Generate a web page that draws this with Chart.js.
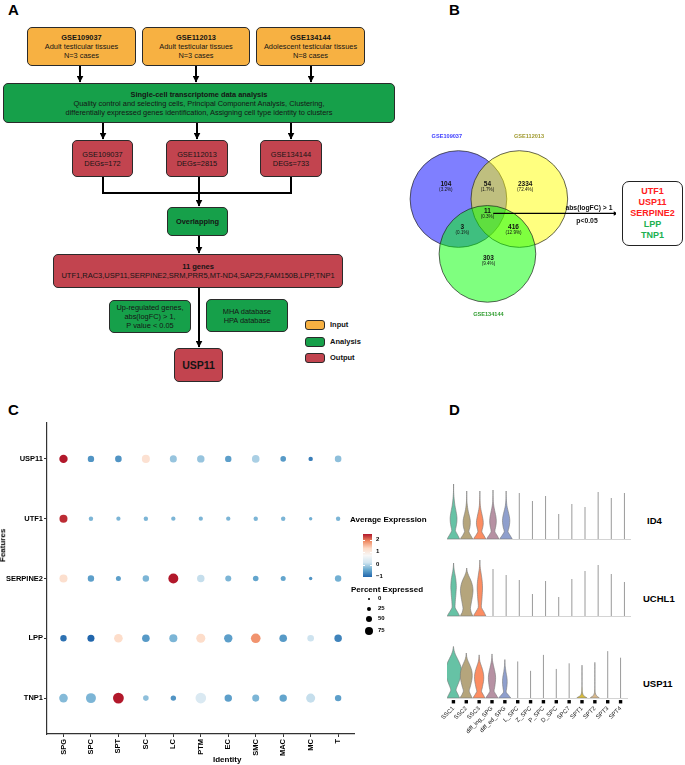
<!DOCTYPE html>
<html>
<head>
<meta charset="utf-8">
<script src="https://cdn.jsdelivr.net/npm/chart.js@4.4.1/dist/chart.umd.min.js"></script>
<style>
  body { margin: 0; background: #fff; font-family: "Liberation Sans", Arial, sans-serif; }
  #page { position: relative; width: 685px; height: 765px; overflow: hidden; background: #fff; }
  .abs { position: absolute; }
  .letter { position: absolute; font-weight: bold; font-size: 15px; color: #000; }
  .box { position: absolute; box-sizing: border-box; border: 1px solid #2a2a2a; border-radius: 5px;
         display: flex; flex-direction: column; align-items: center; justify-content: center;
         text-align: center; font-size: 7.4px; line-height: 9px; color: #151515; white-space: nowrap; }
  .orange { background: #f7b142; }
  .green { background: #16a04a; }
  .red { background: #c2444f; }
  .leg { position: absolute; font-size: 7.5px; font-weight: bold; color: #111; }
  .txt { position: absolute; white-space: nowrap; color: #000; }
  canvas { position: absolute; }
</style>
</head>
<body>
<div id="page">
  <!-- panel A -->
  <div class="letter" style="left:8px;top:1px;">A</div>
  <svg class="abs" style="left:0;top:0;" width="400" height="400">
    <defs>
      <marker id="ah" markerWidth="3.5" markerHeight="3.5" refX="3.2" refY="1.75" orient="auto" markerUnits="strokeWidth">
        <path d="M0,0 L3.5,1.75 L0,3.5 z" fill="#000"/>
      </marker>
    </defs>
    <g stroke="#000" stroke-width="2" fill="none">
      <line x1="80" y1="66" x2="80" y2="82" marker-end="url(#ah)"/>
      <line x1="196" y1="66" x2="196" y2="82" marker-end="url(#ah)"/>
      <line x1="311" y1="66" x2="311" y2="82" marker-end="url(#ah)"/>
      <line x1="103" y1="123" x2="103" y2="139" marker-end="url(#ah)"/>
      <line x1="197" y1="123" x2="197" y2="139" marker-end="url(#ah)"/>
      <line x1="291" y1="123" x2="291" y2="139" marker-end="url(#ah)"/>
      <polyline points="103,177 103,193 291,193 291,177"/>
      <line x1="199" y1="177" x2="199" y2="206" marker-end="url(#ah)"/>
      <line x1="199" y1="236" x2="199" y2="253" marker-end="url(#ah)"/>
      <line x1="199" y1="288" x2="199" y2="347" marker-end="url(#ah)"/>
    </g>
  </svg>
  <div class="box orange" style="left:27px;top:27px;width:109px;height:39px;"><b>GSE109037</b>Adult testicular tissues<br>N=3 cases</div>
  <div class="box orange" style="left:142px;top:27px;width:108px;height:39px;"><b>GSE112013</b>Adult testicular tissues<br>N=3 cases</div>
  <div class="box orange" style="left:256px;top:27px;width:109px;height:39px;"><b>GSE134144</b>Adolescent testicular tissues<br>N=8 cases</div>
  <div class="box green" style="left:3px;top:83px;width:392px;height:40px;"><b>Single-cell transcriptome data analysis</b>Quality control and selecting cells, Principal Component Analysis, Clustering,<br>differentially expressed genes identification, Assigning cell type identity to clusters</div>
  <div class="box red" style="left:72px;top:140px;width:61px;height:37px;">GSE109037<br>DEGs=172</div>
  <div class="box red" style="left:166px;top:140px;width:62px;height:37px;">GSE112013<br>DEGs=2815</div>
  <div class="box red" style="left:260px;top:140px;width:62px;height:37px;">GSE134144<br>DEGs=733</div>
  <div class="box green" style="left:167px;top:207px;width:61px;height:29px;"><b>Overlapping</b></div>
  <div class="box red" style="left:53px;top:254px;width:290px;height:34px;font-size:7.5px;"><b>11 genes</b>UTF1,RAC3,USP11,SERPINE2,SRM,PRR5,MT-ND4,SAP25,FAM150B,LPP,TNP1</div>
  <div class="box green" style="left:109px;top:300px;width:82px;height:33px;">Up-regulated genes,<br>abs(logFC) &gt; 1,<br>P value &lt; 0.05</div>
  <div class="box green" style="left:206px;top:299px;width:82px;height:33px;">MHA database<br>HPA database</div>
  <div class="box red" style="left:174px;top:348px;width:49px;height:34px;font-size:10.5px;"><b>USP11</b></div>
  <div class="box orange" style="left:305px;top:320px;width:20px;height:10px;border-radius:3px;"></div>
  <div class="box green" style="left:305px;top:337px;width:20px;height:10px;border-radius:3px;"></div>
  <div class="box red" style="left:305px;top:353px;width:20px;height:10px;border-radius:3px;"></div>
  <div class="leg" style="left:330px;top:320px;">Input</div>
  <div class="leg" style="left:330px;top:337px;">Analysis</div>
  <div class="leg" style="left:330px;top:353px;">Output</div>

  <!-- panel B -->
  <div class="letter" style="left:449px;top:1px;">B</div>
  <canvas id="venn" width="240" height="210" style="left:380px;top:120px;"></canvas>
  <div class="box" style="left:622px;top:181px;width:61px;height:65px;border:1.2px solid #222;border-radius:7px;font-size:9px;line-height:11px;font-weight:bold;">
    <span style="color:#ff2020">UTF1</span><span style="color:#ff2020">USP11</span><span style="color:#ff2020">SERPINE2</span><span style="color:#20b050">LPP</span><span style="color:#20b050">TNP1</span>
  </div>

  <!-- panel C -->
  <div class="letter" style="left:8px;top:401px;">C</div>
  <canvas id="dotC" width="360" height="350" style="left:0;top:415px;"></canvas>
  <div class="txt" style="left:-14px;top:541px;font-size:8px;font-weight:bold;transform:rotate(-90deg);">Features</div>
  <div class="txt" style="left:213px;top:755px;font-size:8px;font-weight:bold;">Identity</div>
  <div class="txt" style="left:350px;top:515px;font-size:8px;font-weight:bold;">Average Expression</div>
  <div class="abs" id="cbar" style="left:363px;top:534px;width:9px;height:43px;"></div>
  <div id="cbarLabels"></div>
  <div class="txt" style="left:351px;top:585px;font-size:8px;font-weight:bold;">Percent Expressed</div>
  <div id="sizeLegend"></div>

  <!-- panel D -->
  <div class="letter" style="left:449px;top:401px;">D</div>
  <canvas id="vio1" width="184" height="65" style="left:447px;top:475px;"></canvas>
  <canvas id="vio2" width="184" height="65" style="left:447px;top:552px;"></canvas>
  <canvas id="vio3" width="217" height="110" style="left:414px;top:634px;"></canvas>
  <div class="txt" style="left:647px;top:515px;font-size:9.5px;font-weight:bold;">ID4</div>
  <div class="txt" style="left:643px;top:593px;font-size:9.5px;font-weight:bold;">UCHL1</div>
  <div class="txt" style="left:643px;top:678px;font-size:9.5px;font-weight:bold;">USP11</div>
</div>

<script>
Chart.defaults.font.family = '"Liberation Sans", Arial, sans-serif';
Chart.defaults.animation = false;

// ---------- panel B: Venn ----------
const vennSets = ['GSE109037', 'GSE112013', 'GSE134144'];
const vennX = [-0.31, 0.32, -0.01];
const vennY = [0.2, 0.2, -0.37];
const vennRadius = 0.5;
const vennFill = ['rgba(0,0,255,0.5)', 'rgba(255,255,0,0.5)', 'rgba(0,255,0,0.5)'];
const vennNameColor = ['#3c3cff', '#a09a30', '#2e9c2e'];
const vennNameX = [-0.43, 0.42, 0.0];
const vennNameY = [0.85, 0.85, -1.0];
const regionCounts = ['104', '54', '2334', '11', '3', '416', '303'];
const regionPct = ['(3.2%)', '(1.7%)', '(72.4%)', '(0.3%)', '(0.1%)', '(12.9%)', '(9.4%)'];
const regionX = [-0.44, -0.01, 0.38, -0.01, -0.27, 0.26, 0.0];
const regionY = [0.33, 0.33, 0.33, 0.05, -0.11, -0.11, -0.44];

const vennText = {
  id: 'vennText',
  afterDatasetsDraw(chart) {
    const { ctx, scales: { x, y } } = chart;
    ctx.save();
    ctx.textAlign = 'center';
    ctx.textBaseline = 'middle';
    regionCounts.forEach((c, i) => {
      const px = x.getPixelForValue(regionX[i]), py = y.getPixelForValue(regionY[i]);
      ctx.fillStyle = '#111';
      ctx.font = 'bold 6.5px "Liberation Sans"';
      ctx.fillText(c, px, py - 2);
      ctx.font = '4.6px "Liberation Sans"';
      ctx.fillText(regionPct[i], px, py + 3.5);
    });
    vennSets.forEach((s, i) => {
      ctx.fillStyle = vennNameColor[i];
      ctx.font = 'bold 5.6px "Liberation Sans"';
      ctx.fillText(s, x.getPixelForValue(vennNameX[i]), y.getPixelForValue(vennNameY[i]));
    });
    ctx.fillStyle = '#111';
    ctx.font = 'bold 6.8px "Liberation Sans"';
    ctx.fillText('abs(logFC) > 1', x.getPixelForValue(1.04), y.getPixelForValue(0.11));
    ctx.fillText('p<0.05', x.getPixelForValue(1.02), y.getPixelForValue(-0.03));
    ctx.restore();
  }
};

new Chart(document.getElementById('venn'), {
  type: 'scatter',
  data: {
    // higher order is painted first, so blue, then yellow, then green on top
    datasets: vennSets.map((s, i) => ({
      label: s,
      order: 3 - i,
      data: [{ x: vennX[i], y: vennY[i] }],
      pointBackgroundColor: vennFill[i],
      pointBorderColor: '#222',
      pointBorderWidth: 0.7,
      pointRadius: ctx => ctx.chart.scales.x.getPixelForValue(vennRadius) - ctx.chart.scales.x.getPixelForValue(0)
    })).concat([{
      order: 0,
      data: [{ x: 0.05, y: 0.05 }, { x: 1.31, y: 0.05 }],
      showLine: true,
      borderColor: '#000',
      borderWidth: 1.2,
      pointBackgroundColor: '#000',
      pointBorderWidth: 0,
      pointRadius: [0, 2.6],
      pointStyle: 'triangle',
      pointRotation: 90
    }])
  },
  options: {
    responsive: false, devicePixelRatio: 1, events: [],
    layout: { padding: 0 },
    plugins: { legend: { display: false }, tooltip: { enabled: false } },
    scales: {
      x: { type: 'linear', min: -1.08, max: 1.32, display: false },
      y: { type: 'linear', min: -1.12, max: 0.98, display: false }
    }
  },
  plugins: [vennText]
});

// ---------- panel C: dot plot ----------
const cellTypes = ['SPG', 'SPC', 'SPT', 'SC', 'LC', 'PTM', 'EC', 'SMC', 'MAC', 'MC', 'T'];
const dotGenes = ['USP11', 'UTF1', 'SERPINE2', 'LPP', 'TNP1'];
const avgUSP11 = [2.5, -0.6, -0.6, 1.2, -0.15, -0.15, -0.5, -0.05, -0.55, -0.8, -0.2];
const avgUTF1 = [2.4, -0.3, -0.3, -0.3, -0.3, -0.3, -0.3, -0.3, -0.3, -0.35, -0.3];
const avgSERPINE2 = [1.25, -0.5, -0.5, -0.3, 2.5, 0.1, -0.3, -0.45, -0.45, -0.6, -0.35];
const avgLPP = [-0.9, -1.0, 1.3, -0.55, -0.3, 1.3, -0.5, 1.85, -0.55, 0.15, -0.75];
const avgTNP1 = [-0.25, -0.3, 2.5, -0.2, -0.6, 0.3, -0.5, -0.3, -0.45, 0.1, -0.5];
const pctUSP11 = [71, 48, 50, 67, 55, 60, 48, 62, 38, 24, 50];
const pctUTF1 = [67, 24, 22, 24, 23, 22, 23, 24, 24, 12, 24];
const pctSERPINE2 = [67, 48, 31, 48, 90, 60, 43, 38, 31, 12, 48];
const pctLPP = [48, 55, 74, 62, 67, 79, 71, 86, 62, 50, 60];
const pctTNP1 = [74, 90, 100, 38, 36, 98, 60, 55, 60, 79, 48];
const avgByGene = [avgUSP11, avgUTF1, avgSERPINE2, avgLPP, avgTNP1];
const pctByGene = [pctUSP11, pctUTF1, pctSERPINE2, pctLPP, pctTNP1];
const expMin = -1, expMax = 2.5;
const rdbu = ['#2166ac', '#67a9cf', '#d1e5f0', '#f7f7f7', '#fddbc7', '#ef8a62', '#b2182b'];
const colorBreaks = [2, 1, 0, -1];
const sizeBreaks = [0, 25, 50, 75];

function hexToRgb(h) { return [1, 3, 5].map(i => parseInt(h.slice(i, i + 2), 16)); }
function expColor(v) {
  const t = Math.max(0, Math.min(1, (v - expMin) / (expMax - expMin))) * (rdbu.length - 1);
  const i = Math.min(Math.floor(t), rdbu.length - 2);
  const f = t - i;
  const a = hexToRgb(rdbu[i]), b = hexToRgb(rdbu[i + 1]);
  return 'rgb(' + a.map((c, k) => Math.round(c + (b[k] - c) * f)).join(',') + ')';
}
function sizeScale(pct) { return 1.2 + 0.042 * pct; }

const dotPoints = [];
const dotColors = [];
dotGenes.forEach((g, gi) => {
  cellTypes.forEach((c, ci) => {
    dotPoints.push({ x: ci, y: gi, r: sizeScale(pctByGene[gi][ci]) });
    dotColors.push(expColor(avgByGene[gi][ci]));
  });
});

new Chart(document.getElementById('dotC'), {
  type: 'bubble',
  data: { datasets: [{ data: dotPoints, backgroundColor: dotColors, borderWidth: 0 }] },
  options: {
    responsive: false, devicePixelRatio: 1, events: [],
    layout: { padding: { top: 8, right: 4, left: 0, bottom: 0 } },
    plugins: { legend: { display: false }, tooltip: { enabled: false } },
    scales: {
      x: {
        type: 'linear', min: -0.6, max: 10.6,
        afterBuildTicks: s => { s.ticks = cellTypes.map((_, i) => ({ value: i })); },
        afterFit: s => { s.height = 31; s.paddingLeft = 0; s.paddingRight = 0; },
        ticks: { autoSkip: false, minRotation: 90, maxRotation: 90, padding: 2, color: '#000',
                 font: { size: 7.5, weight: 'bold' }, callback: v => cellTypes[v] },
        grid: { drawOnChartArea: false, tickLength: 3, color: '#333' },
        border: { color: '#333', width: 1.2 }
      },
      y: {
        type: 'linear', min: -0.6, max: 4.6, reverse: true,
        afterBuildTicks: s => { s.ticks = dotGenes.map((_, i) => ({ value: i })); },
        afterFit: s => { s.width = 47; s.paddingTop = 0; s.paddingBottom = 0; },
        ticks: { autoSkip: false, padding: 1, color: '#000',
                 font: { size: 7.5, weight: 'bold' }, callback: v => dotGenes[v] },
        grid: { drawOnChartArea: false, tickLength: 3, color: '#333' },
        border: { color: '#333', width: 1.2 }
      }
    }
  }
});

// legends of panel C
document.getElementById('cbar').style.background =
  'linear-gradient(to top,' + rdbu.join(',') + ')';
const cbarTop = 534, cbarH = 43;
document.getElementById('cbarLabels').innerHTML = colorBreaks.map(v => {
  const yy = cbarTop + cbarH * (expMax - v) / (expMax - expMin);
  return '<div class="txt" style="left:376px;top:' + (yy - 4) + 'px;font-size:6px;font-weight:bold;">' +
    (v < 0 ? '\u2212' + Math.abs(v) : v) + '</div>' +
    '<div class="abs" style="left:363px;top:' + yy + 'px;width:2px;height:0.8px;background:#fff"></div>' +
    '<div class="abs" style="left:370px;top:' + yy + 'px;width:2px;height:0.8px;background:#fff"></div>';
}).join('');
const sizeY = [599, 609, 619, 631];
document.getElementById('sizeLegend').innerHTML = sizeBreaks.map((p, i) => {
  const r = sizeScale(p);
  return '<div class="abs" style="left:' + (369 - r) + 'px;top:' + (sizeY[i] - r) + 'px;width:' + 2 * r +
    'px;height:' + 2 * r + 'px;border-radius:50%;background:#000"></div>' +
    '<div class="txt" style="left:378px;top:' + (sizeY[i] - 4) + 'px;font-size:6px;font-weight:bold;">' + p + '</div>';
}).join('');

// ---------- panel D: violins ----------
const violinTypes = ['SSC1', 'SSC2', 'SSC3', 'diff_ing_SPG', 'diff_ed_SPG', 'L_SPC', 'Z_SPC', 'P_SPC',
                     'D_SPC', 'SPC7', 'SPT1', 'SPT2', 'SPT3', 'SPT4'];
const violinColors = ['#66c2a5', '#b5a57c', '#fc8d62', '#b691a3', '#8f9fcd', '#aaaaaa', '#aaaaaa', '#aaaaaa',
                      '#aaaaaa', '#aaaaaa', '#d6ba3c', '#d9b98c', '#aaaaaa', '#aaaaaa'];
const id4Max = [2.75, 2.4, 2.4, 2.45, 2.4, 2.3, 1.9, 2.15, 1.25, 1.75, 1.6, 2.35, 2.05, 2.3];
const uchl1Max = [2.65, 2.4, 2.8, 2.35, 2.05, 1.8, 1.1, 1.75, 0.95, 1.85, 2.25, 2.55, 2.1, 1.7];
const usp11Max = [2.75, 2.4, 2.3, 2.35, 2.05, 1.95, 1.45, 2.3, 1.55, 1.85, 1.75, 1.9, 2.5, 2.15];
// half widths (in category units) from bottom to top of each violin, null = no spread
const id4Widths = [
  [0.46, 0.30, 0.14, 0.20, 0.25, 0.26, 0.22, 0.16, 0.10, 0.06, 0.03, 0.01, 0, 0],
  [0.46, 0.30, 0.16, 0.23, 0.27, 0.27, 0.22, 0.15, 0.09, 0.05, 0.02, 0.01, 0, 0],
  [0.46, 0.30, 0.15, 0.21, 0.26, 0.25, 0.20, 0.14, 0.08, 0.04, 0.02, 0.01, 0, 0],
  [0.46, 0.30, 0.14, 0.19, 0.24, 0.25, 0.22, 0.16, 0.10, 0.05, 0.02, 0.01, 0, 0],
  [0.46, 0.30, 0.14, 0.21, 0.26, 0.28, 0.25, 0.19, 0.12, 0.06, 0.03, 0.01, 0, 0],
  null, null, null, null, null, null, null, null, null
];
const uchl1Widths = [
  [0.46, 0.30, 0.12, 0.12, 0.14, 0.17, 0.19, 0.21, 0.20, 0.17, 0.12, 0.06, 0.02, 0],
  [0.46, 0.34, 0.28, 0.32, 0.37, 0.42, 0.46, 0.48, 0.45, 0.38, 0.27, 0.14, 0.04, 0],
  [0.46, 0.30, 0.12, 0.13, 0.16, 0.18, 0.20, 0.20, 0.18, 0.14, 0.09, 0.04, 0.01, 0],
  null, null, null, null, null, null, null, null, null, null, null
];
const usp11Widths = [
  [0.48, 0.34, 0.20, 0.30, 0.42, 0.53, 0.60, 0.62, 0.57, 0.45, 0.30, 0.15, 0.05, 0],
  [0.46, 0.33, 0.22, 0.29, 0.36, 0.42, 0.46, 0.46, 0.42, 0.33, 0.22, 0.10, 0.03, 0],
  [0.46, 0.32, 0.18, 0.24, 0.29, 0.34, 0.36, 0.35, 0.30, 0.23, 0.14, 0.06, 0.02, 0],
  [0.46, 0.31, 0.16, 0.20, 0.24, 0.27, 0.28, 0.26, 0.21, 0.15, 0.09, 0.04, 0.01, 0],
  [0.46, 0.28, 0.10, 0.13, 0.16, 0.18, 0.18, 0.16, 0.12, 0.08, 0.05, 0.02, 0.01, 0],
  null, null, null, null, null,
  [0.40, 0.12, 0.04, 0.02, 0.01, 0, 0, 0, 0, 0, 0, 0, 0, 0],
  [0.35, 0.10, 0.03, 0.01, 0, 0, 0, 0, 0, 0, 0, 0, 0, 0],
  null, null
];

function violinDatasets(maxArr, widthArr) {
  return violinTypes.map((name, i) => {
    const h = maxArr[i], w = widthArr[i];
    if (!w) {
      return { data: [{ x: i, y: 0 }, { x: i, y: h }], borderColor: '#9a9a9a', borderWidth: 1,
               pointRadius: 0, fill: false, tension: 0 };
    }
    const n = w.length;
    const right = w.map((v, k) => ({ x: i + v, y: h * k / (n - 1) }));
    const left = w.map((v, k) => ({ x: i - v, y: h * k / (n - 1) })).reverse();
    return { order: 20 - i, data: right.concat(left, [right[0]]), backgroundColor: violinColors[i],
             borderColor: '#777', borderWidth: 0.6, pointRadius: 0, fill: 'shape', tension: 0.25 };
  });
}

function violinChart(id, maxArr, widthArr, withLabels) {
  const datasets = violinDatasets(maxArr, widthArr);
  if (withLabels) {
    datasets.push({
      data: violinTypes.map((_, i) => ({ x: i, y: -0.2 })),
      showLine: false, pointStyle: 'rect', pointRadius: 2.4, backgroundColor: '#000', borderWidth: 0, clip: false
    });
  }
  new Chart(document.getElementById(id), {
    type: 'line',
    data: { datasets },
    options: {
      responsive: false, devicePixelRatio: 1, events: [],
      layout: { padding: { left: withLabels ? 33 : 0, right: 0, top: 0, bottom: 0 } },
      plugins: { legend: { display: false }, tooltip: { enabled: false } },
      scales: {
        x: {
          type: 'linear', min: -0.5, max: 13.5,
          afterBuildTicks: s => { s.ticks = violinTypes.map((_, i) => ({ value: i })); },
          afterFit: s => { s.height = withLabels ? 46 : 1; s.paddingLeft = 0; s.paddingRight = 0; },
          ticks: { display: withLabels, autoSkip: false, minRotation: 45, maxRotation: 45, padding: 0,
                   color: '#222', font: { size: 6 }, callback: v => violinTypes[v] },
          grid: { display: false, tickLength: 7 },
          border: { color: '#d4d4d4', width: 1 }
        },
        y: { type: 'linear', min: 0, max: 3.2, display: false }
      }
    }
  });
}

violinChart('vio1', id4Max, id4Widths, false);
violinChart('vio2', uchl1Max, uchl1Widths, false);
violinChart('vio3', usp11Max, usp11Widths, true);
</script>
</body>
</html>
